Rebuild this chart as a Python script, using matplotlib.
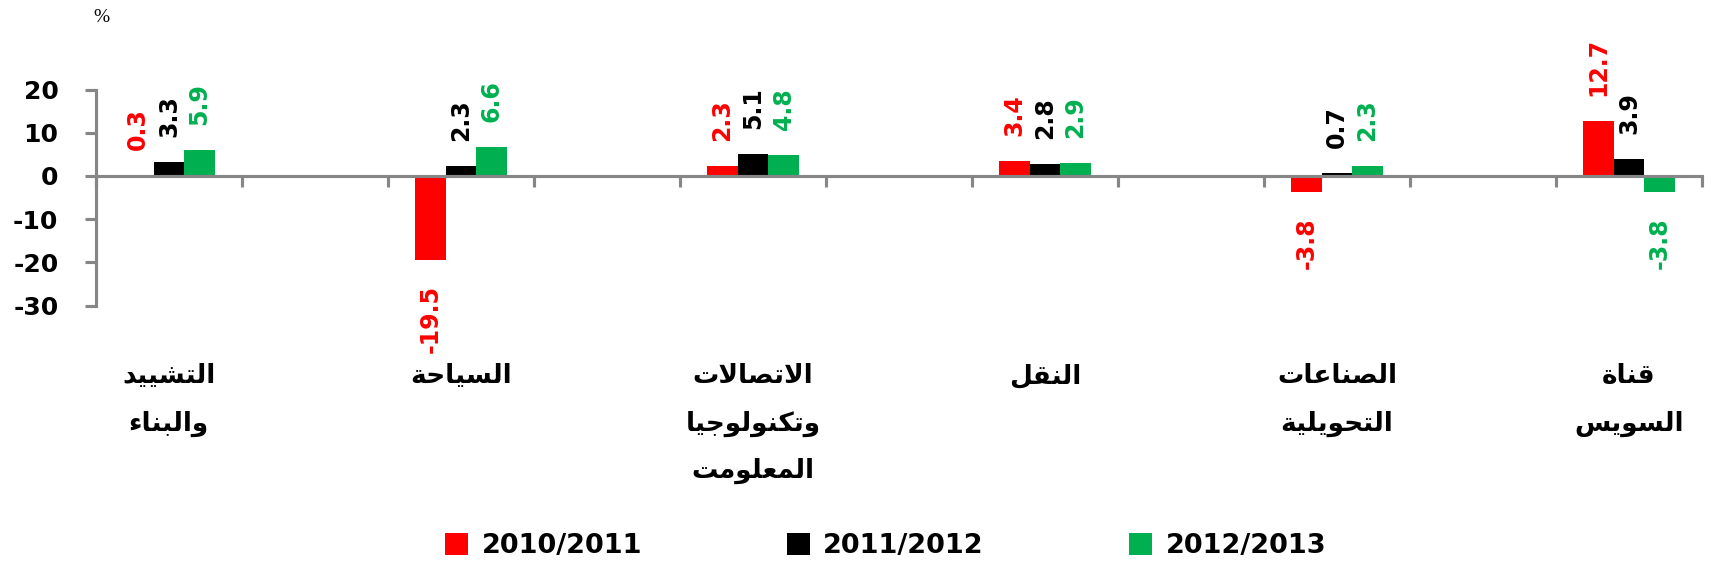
import numpy as np
import matplotlib
matplotlib.use('Agg')
import matplotlib.pyplot as plt
import matplotlib.transforms as mtransforms

# data
categories = [['التشييد', 'والبناء'],
              ['السياحة'],
              ['الاتصالات', 'وتكنولوجيا', 'المعلومت'],
              ['النقل'],
              ['الصناعات', 'التحويلية'],
              ['قناة', 'السويس']]
series_names = ['2010/2011', '2011/2012', '2012/2013']
v_2010 = [0.3, -19.5, 2.3, 3.4, -3.8, 12.7]
v_2011 = [3.3, 2.3, 5.1, 2.8, 0.7, 3.9]
v_2012 = [5.9, 6.6, 4.8, 2.9, 2.3, -3.8]
yticks = [20, 10, 0, -10, -20, -30]

colors = ['#FF0000', '#000000', '#00B050']
axis_gray = '#868686'

# minimal arabic shaping (matplotlib has none): isol, final, initial, medial
FORMS = {
    'ء': ('\uFE80', None, None, None),
    'ا': ('\uFE8D', '\uFE8E', None, None),
    'ب': ('\uFE8F', '\uFE90', '\uFE91', '\uFE92'),
    'ة': ('\uFE93', '\uFE94', None, None),
    'ت': ('\uFE95', '\uFE96', '\uFE97', '\uFE98'),
    'ج': ('\uFE9D', '\uFE9E', '\uFE9F', '\uFEA0'),
    'ح': ('\uFEA1', '\uFEA2', '\uFEA3', '\uFEA4'),
    'د': ('\uFEA9', '\uFEAA', None, None),
    'س': ('\uFEB1', '\uFEB2', '\uFEB3', '\uFEB4'),
    'ش': ('\uFEB5', '\uFEB6', '\uFEB7', '\uFEB8'),
    'ص': ('\uFEB9', '\uFEBA', '\uFEBB', '\uFEBC'),
    'ع': ('\uFEC9', '\uFECA', '\uFECB', '\uFECC'),
    'ق': ('\uFED5', '\uFED6', '\uFED7', '\uFED8'),
    'ك': ('\uFED9', '\uFEDA', '\uFEDB', '\uFEDC'),
    'ل': ('\uFEDD', '\uFEDE', '\uFEDF', '\uFEE0'),
    'م': ('\uFEE1', '\uFEE2', '\uFEE3', '\uFEE4'),
    'ن': ('\uFEE5', '\uFEE6', '\uFEE7', '\uFEE8'),
    'و': ('\uFEED', '\uFEEE', None, None),
    'ي': ('\uFEF1', '\uFEF2', '\uFEF3', '\uFEF4'),
}
LAMALEF = ('\uFEFB', '\uFEFC', None, None)


def shape(word):
    chars = []
    i = 0
    while i < len(word):
        if word[i] == 'ل' and i + 1 < len(word) and word[i + 1] == 'ا':
            chars.append('لا')
            i += 2
        else:
            chars.append(word[i])
            i += 1
    out = []
    for k, c in enumerate(chars):
        f = LAMALEF if c == 'لا' else FORMS.get(c)
        if f is None:
            out.append(c)
            continue
        prev = chars[k - 1] if k > 0 else None
        nxt = chars[k + 1] if k + 1 < len(chars) else None
        jp = prev in FORMS and FORMS[prev][2] is not None and f[1] is not None
        jn = f[2] is not None and nxt is not None and (nxt == 'لا' or (nxt in FORMS and FORMS[nxt][1] is not None))
        if jp and jn:
            out.append(f[3])
        elif jp:
            out.append(f[1])
        elif jn:
            out.append(f[2])
        else:
            out.append(f[0])
    return ''.join(reversed(out))


plt.rcParams['font.family'] = ['DejaVu Sans']
plt.rcParams['font.weight'] = 'bold'

fig = plt.figure(figsize=(17.11, 5.73), dpi=100)
ax = fig.add_axes([0.0561, 0.4668, 0.9386, 0.377])

n = len(categories)
x = np.arange(n) * 2 + 0.5
w = 0.21
all_vals = [v_2010, v_2011, v_2012]
bars = []
for j, vals in enumerate(all_vals):
    b = ax.bar(x + (j - 1) * w, vals, w, color=colors[j], label=series_names[j], zorder=2)
    bars.append(b)
    for xi, v in zip(x + (j - 1) * w, vals):
        off = 18 if v >= 0 else -18
        ax.annotate(f'{v:.1f}', (xi, v), xytext=(0, off), textcoords='offset points',
                    rotation=90, ha='center', va='bottom' if v >= 0 else 'top',
                    color=colors[j], fontsize=17, fontweight='bold', clip_on=False)

ax.set_xlim(0, 2 * n - 1)
ax.set_ylim(-30, 20)
ax.set_yticks(yticks)
ax.set_yticklabels([str(t) for t in yticks])
ax.set_xticks(np.arange(0, 2 * n))
ax.set_xticklabels([])

for s in ['top', 'right']:
    ax.spines[s].set_visible(False)
ax.spines['left'].set_color(axis_gray)
ax.spines['left'].set_linewidth(2.25)
ax.spines['bottom'].set_position(('data', 0))
ax.spines['bottom'].set_color(axis_gray)
ax.spines['bottom'].set_linewidth(2.25)
ax.spines['bottom'].set_zorder(3)
ax.tick_params(axis='y', direction='out', length=8, width=2.25, color=axis_gray,
               labelsize=18, pad=19)
ax.tick_params(axis='x', direction='out', length=8, width=2.25, color=axis_gray)
for lab in ax.get_yticklabels():
    lab.set_fontweight('bold')

# category labels under the plot
trans = mtransforms.blended_transform_factory(ax.transData, fig.transFigure)
line_y = [1 - 376 / 573, 1 - 423.5 / 573, 1 - 471 / 573]
for xi, lines in zip(x, categories):
    for k, line in enumerate(lines):
        ax.text(xi, line_y[k], shape(line), transform=trans, ha='center', va='center',
                fontsize=19, fontweight='bold', clip_on=False)

fig.text(0.059, 0.97, '%', family='Liberation Serif', fontweight='normal',
         fontsize=14, ha='center', va='center')

fig.legend(handles=bars, labels=series_names, loc='center', bbox_to_anchor=(0.5175, 0.047),
           ncol=3, frameon=False, prop={'size': 19.5, 'weight': 'bold'},
           handlelength=0.85, handleheight=0.9, handletextpad=0.5, columnspacing=5.35)

fig.savefig('out.png', dpi=100)
